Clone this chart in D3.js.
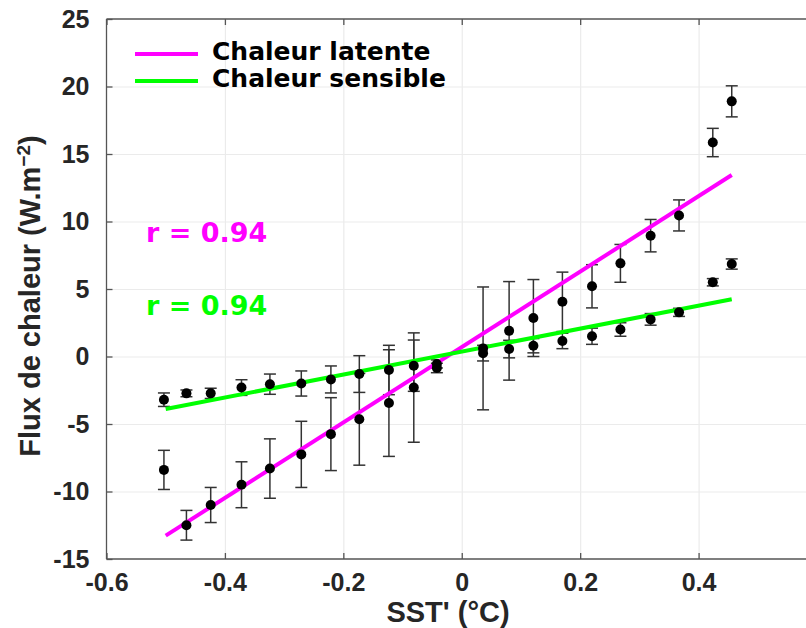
<!DOCTYPE html>
<html>
<head>
<meta charset="utf-8">
<script src="https://cdn.jsdelivr.net/npm/d3@7"></script>
<style>
  body { margin: 0; background: #fff; }
  svg { display: block; }
</style>
</head>
<body>
<svg id="chart" width="806" height="628"></svg>
<script>
// SST' bins (°C)
const sst = [-0.503, -0.465, -0.424, -0.372, -0.324, -0.271, -0.221, -0.173, -0.123, -0.081, -0.042,
             0.036, 0.080, 0.121, 0.170, 0.220, 0.268, 0.319, 0.367, 0.424, 0.456];

// latent heat flux (W.m-2) and error half-width
const latent = [-8.4, -12.5, -11.0, -9.5, -8.3, -7.25, -5.75, -4.65, -3.45, -2.3, -0.85,
                0.6, 1.9, 2.85, 4.05, 5.2, 6.9, 8.95, 10.45, 15.85, 18.9];
const latentErr = [1.45, 1.1, 1.3, 1.7, 2.2, 2.45, 2.7, 3.4, 3.95, 4.05, 0.35,
                   4.55, 3.65, 2.85, 2.2, 1.6, 1.4, 1.2, 1.15, 1.05, 1.15];

// sensible heat flux (W.m-2) and error half-width
const sensible = [-3.2, -2.73, -2.73, -2.3, -2.05, -2.0, -1.7, -1.3, -1.0, -0.68, -0.55,
                  0.25, 0.55, 0.8, 1.15, 1.5, 2.0, 2.75, 3.27, 5.5, 6.85];
const sensibleErr = [0.5, 0.25, 0.38, 0.58, 0.75, 0.93, 1.0, 1.36, 1.83, 1.9, 0.3,
                     0.58, 0.65, 0.53, 0.57, 0.6, 0.5, 0.43, 0.3, 0.27, 0.38];

// regression lines (end points)
const fitX = [-0.5, 0.456];
const latentFit = [-13.27, 13.44];
const sensibleFit = [-3.89, 4.24];

const xTicks = [-0.6, -0.4, -0.2, 0, 0.2, 0.4];
const yTicks = [-15, -10, -5, 0, 5, 10, 15, 20, 25];

const svg = d3.select("#chart");
const margin = { top: 19, left: 106.5, bottom: 559, right: 817 };
const tickFont = "'Liberation Sans', Arial, sans-serif";
const boldFont = "'DejaVu Sans', sans-serif";
const plainFmt = d => String(d);

const x = d3.scaleLinear().domain([-0.6, 0.6]).range([margin.left, margin.right]);
const y = d3.scaleLinear().domain([-15, 25]).range([margin.bottom, margin.top]);

// grid
svg.append("g")
  .attr("transform", `translate(0,${margin.bottom})`)
  .call(d3.axisBottom(x).tickValues(xTicks.slice(1)).tickSize(-(margin.bottom - margin.top)).tickFormat(""))
  .call(g => g.select(".domain").remove())
  .selectAll("line").attr("stroke", "#ebebeb").attr("stroke-width", 1.2);

svg.append("g")
  .attr("transform", `translate(${margin.left},0)`)
  .call(d3.axisLeft(y).tickValues(yTicks.slice(1, -1)).tickSize(-(margin.right - margin.left)).tickFormat(""))
  .call(g => g.select(".domain").remove())
  .selectAll("line").attr("stroke", "#ebebeb").attr("stroke-width", 1.2);

// frame (top, left, bottom)
const frame = svg.append("g").attr("stroke", "#555").attr("stroke-width", 1.3).attr("fill", "none");
frame.append("line").attr("x1", margin.left).attr("x2", 806).attr("y1", margin.top).attr("y2", margin.top);
frame.append("line").attr("x1", margin.left).attr("x2", 806).attr("y1", margin.bottom).attr("y2", margin.bottom);
frame.append("line").attr("x1", margin.left).attr("x2", margin.left).attr("y1", margin.top).attr("y2", margin.bottom);

// x axis (ticks inward)
const xAxis = svg.append("g")
  .attr("transform", `translate(0,${margin.bottom})`)
  .call(d3.axisBottom(x).tickValues(xTicks).tickSizeInner(-6).tickSizeOuter(0).tickPadding(14).tickFormat(plainFmt));
xAxis.select(".domain").remove();
xAxis.selectAll("line").attr("stroke", "#555").attr("stroke-width", 1.3);
xAxis.selectAll("text")
  .attr("fill", "#262626")
  .style("font-family", tickFont).style("font-weight", "bold").style("font-size", "25px");

svg.append("g")
  .attr("transform", `translate(0,${margin.top})`)
  .call(d3.axisTop(x).tickValues(xTicks).tickSizeInner(-6).tickSizeOuter(0).tickFormat(""))
  .call(g => g.select(".domain").remove())
  .selectAll("line").attr("stroke", "#555").attr("stroke-width", 1.3);

// y axis
const yAxis = svg.append("g")
  .attr("transform", `translate(${margin.left},0)`)
  .call(d3.axisLeft(y).tickValues(yTicks).tickSizeInner(-6).tickSizeOuter(0).tickPadding(17).tickFormat(plainFmt));
yAxis.select(".domain").remove();
yAxis.selectAll("line").attr("stroke", "#555").attr("stroke-width", 1.3);
yAxis.selectAll("text")
  .attr("fill", "#262626")
  .style("font-family", tickFont).style("font-weight", "bold").style("font-size", "25px");

// axis titles
svg.append("text")
  .attr("x", 448).attr("y", 622)
  .attr("text-anchor", "middle")
  .attr("fill", "#262626")
  .style("font-family", tickFont).style("font-weight", "bold").style("font-size", "29px")
  .text("SST' (°C)");

const yTitle = svg.append("text")
  .attr("transform", "translate(40,296) rotate(-90)")
  .attr("text-anchor", "middle")
  .attr("fill", "#262626")
  .style("font-family", tickFont).style("font-weight", "bold").style("font-size", "29px");
yTitle.append("tspan").text("Flux de chaleur (W.m");
yTitle.append("tspan").attr("dy", -10).style("font-size", "19px").text("−2");
yTitle.append("tspan").attr("dy", 10).text(")");

// error bars
function errorBars(vals, errs) {
  const g = svg.append("g").attr("stroke", "#333").attr("stroke-width", 1.5);
  sst.forEach((s, i) => {
    const top = y(vals[i] + errs[i]), bot = y(vals[i] - errs[i]), cx = x(s);
    g.append("line").attr("x1", cx).attr("x2", cx).attr("y1", top).attr("y2", bot);
    g.append("line").attr("x1", cx - 6).attr("x2", cx + 6).attr("y1", top).attr("y2", top);
    g.append("line").attr("x1", cx - 6).attr("x2", cx + 6).attr("y1", bot).attr("y2", bot);
  });
}
errorBars(latent, latentErr);
errorBars(sensible, sensibleErr);

// regression lines
const line = d3.line().x(d => x(d[0])).y(d => y(d[1]));
svg.append("path")
  .attr("d", line(fitX.map((v, i) => [v, latentFit[i]])))
  .attr("stroke", "#ff00ff").attr("stroke-width", 4).attr("fill", "none");
svg.append("path")
  .attr("d", line(fitX.map((v, i) => [v, sensibleFit[i]])))
  .attr("stroke", "#00ff00").attr("stroke-width", 4).attr("fill", "none");

// points
[latent, sensible].forEach(vals => {
  svg.append("g").selectAll("circle")
    .data(sst)
    .join("circle")
    .attr("cx", d => x(d))
    .attr("cy", (d, i) => y(vals[i]))
    .attr("r", 5)
    .attr("fill", "#000");
});

// legend
const legend = [
  { name: "Chaleur latente", color: "#ff00ff" },
  { name: "Chaleur sensible", color: "#00ff00" }
];
legend.forEach((d, i) => {
  const ly = 54 + i * 27;
  svg.append("line")
    .attr("x1", 135).attr("x2", 198).attr("y1", ly).attr("y2", ly)
    .attr("stroke", d.color).attr("stroke-width", 4);
  svg.append("text")
    .attr("x", 212).attr("y", ly + 6)
    .attr("fill", "#000")
    .style("font-family", boldFont).style("font-weight", "bold").style("font-size", "25px")
    .text(d.name);
});

// correlation labels
svg.append("text")
  .attr("x", 146).attr("y", 242)
  .attr("fill", "#ff00ff")
  .style("font-family", boldFont).style("font-weight", "bold").style("font-size", "27px")
  .text("r = 0.94");
svg.append("text")
  .attr("x", 146).attr("y", 315)
  .attr("fill", "#00ff00")
  .style("font-family", boldFont).style("font-weight", "bold").style("font-size", "27px")
  .text("r = 0.94");
</script>
</body>
</html>
